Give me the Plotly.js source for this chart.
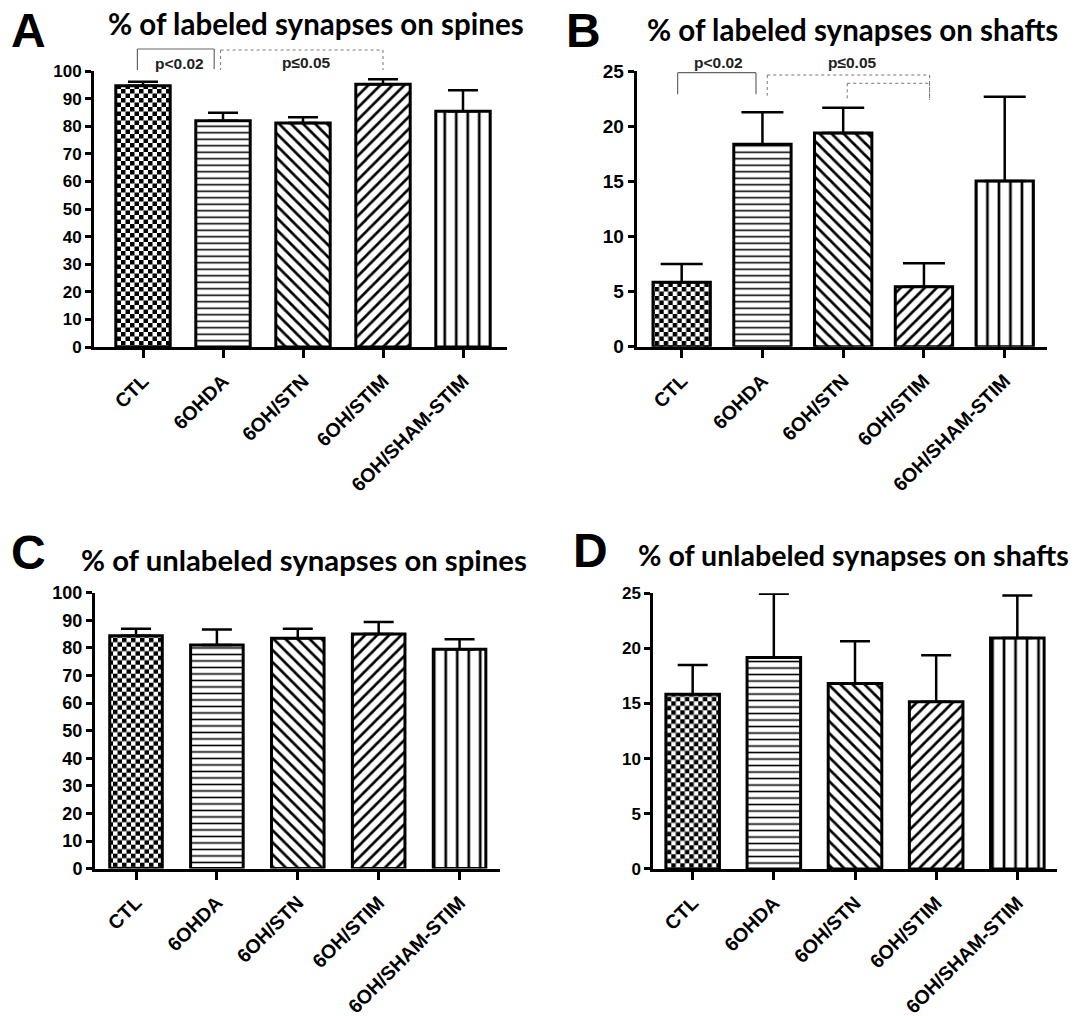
<!DOCTYPE html>
<html><head><meta charset="utf-8">
<script src="https://cdn.plot.ly/plotly-3.0.1.min.js"></script>
<style>body{margin:0;background:#fff}#chart{width:1076px;height:1016px}</style>
</head><body><div id="chart"></div>
<script>
const categories = ['CTL', '6OHDA', '6OH/STN', '6OH/STIM', '6OH/SHAM-STIM'];
const labeledSpinesMean = [94.7, 82.0, 81.2, 95.2, 85.4];
const labeledSpinesSem = [1.4, 2.9, 2.0, 1.8, 7.6];
const labeledShaftsMean = [5.84, 18.35, 19.37, 5.44, 15.02];
const labeledShaftsSem = [1.66, 2.9, 2.3, 2.12, 7.65];
const unlabeledSpinesMean = [84.4, 81.0, 83.5, 85.0, 79.5];
const unlabeledSpinesSem = [2.5, 5.7, 3.4, 4.4, 3.6];
const unlabeledShaftsMean = [15.84, 19.18, 16.81, 15.17, 20.94];
const unlabeledShaftsSem = [2.66, 5.77, 3.83, 4.22, 3.85];
const spineTicks = [0, 10, 20, 30, 40, 50, 60, 70, 80, 90, 100];
const shaftTicks = [0, 5, 10, 15, 20, 25];

const W = 1076, H = 1016;
const px = x => x / W;
const py = y => 1 - y / H;

const patternShapes = ['.', '-', '\\', '/', '|'];
const patternSizes = [9, 6.5, 8.5, 8.5, 11.5];
const patternSolidity = [0.5, 0.24, 0.32, 0.32, 0.23];

function barTrace(mean, sem, xa, ya, width) {
  return {
    type: 'bar', x: categories, y: mean, xaxis: xa, yaxis: ya, width: width,
    marker: {
      color: 'white', line: {color: 'black', width: 3},
      pattern: {shape: patternShapes, size: patternSizes, solidity: patternSolidity,
        fgcolor: 'black', bgcolor: 'white', fillmode: 'replace'}
    },
    error_y: {type: 'data', symmetric: false, array: sem, arrayminus: sem.map(() => 0),
      color: 'black', thickness: 2.5, width: xa === 'x2' ? 21 : 15},
    hoverinfo: 'none', showlegend: false
  };
}

const data = [
  barTrace(labeledSpinesMean, labeledSpinesSem, 'x', 'y', 0.68),
  barTrace(labeledShaftsMean, labeledShaftsSem, 'x2', 'y2', 0.71),
  barTrace(unlabeledSpinesMean, unlabeledSpinesSem, 'x3', 'y3', 0.65),
  barTrace(unlabeledShaftsMean, unlabeledShaftsSem, 'x4', 'y4', 0.66)
];

const tickFont = s => ({family: 'Liberation Sans, Arial, sans-serif', size: s, weight: 'bold', color: 'black'});

function xaxis(dom, range, anchor) {
  return {domain: dom, range: range, anchor: anchor, type: 'category',
    showline: true, linewidth: 3, linecolor: 'black', ticks: 'outside', ticklen: 8, tickwidth: 3,
    tickcolor: 'black', tickangle: -45, tickfont: tickFont(19.5), showgrid: false, zeroline: false,
    ticklabelstandoff: 4};
}
function yaxis(dom, range, ticks, anchor, fs) {
  return {domain: dom, range: range, anchor: anchor, tickvals: ticks,
    showline: true, linewidth: 3, linecolor: 'black', ticks: 'outside', ticklen: 6, tickwidth: 3,
    tickcolor: 'black', tickfont: tickFont(fs), showgrid: false, zeroline: false, ticklabelstandoff: 0};
}

const shapes = [];
function bracket(xref, xl, xr, yTop, yL, yR, dotted) {
  const line = dotted ? {color: '#777', width: 1, dash: 'dot'} : {color: '#666', width: 1.2};
  shapes.push({type: 'line', xref: xref, yref: 'paper', x0: xl, x1: xr, y0: py(yTop), y1: py(yTop), line: line});
  shapes.push({type: 'line', xref: xref, yref: 'paper', x0: xl, x1: xl, y0: py(yTop), y1: py(yL), line: line});
  shapes.push({type: 'line', xref: xref, yref: 'paper', x0: xr, x1: xr, y0: py(yTop), y1: py(yR), line: line});
}
// Panel A comparisons
bracket('x', -0.07, 0.89, 49, 70, 69, false);
bracket('x', 0.97, 3.0, 50, 70, 70, true);
// Panel B comparisons
bracket('x2', -0.05, 0.92, 72.7, 94.3, 94.3, false);
bracket('x2', 1.06, 3.07, 75, 95.7, 100, true);
bracket('x2', 2.05, 3.07, 83.3, 100, 100, true);

const pFont = {family: 'Liberation Sans, Arial, sans-serif', size: 15.5, weight: 'bold', color: '#222'};
const titleFont = s => ({family: 'Lato, Carlito, sans-serif', size: s, weight: 'bold', color: 'black'});
const letterFont = {family: 'Liberation Sans, Arial, sans-serif', size: 48, weight: 'bold', color: 'black'};

function note(xref, x, y, text, font) {
  return {xref: xref, yref: 'paper', x: x, y: py(y), text: text, showarrow: false, font: font,
    xanchor: 'center', yanchor: 'middle'};
}

const annotations = [
  note('x', 0.45, 63, 'p<0.02', pFont),
  note('x', 2.04, 62, 'p≤0.05', pFont),
  note('x2', 0.46, 62.7, 'p<0.02', pFont),
  note('x2', 2.12, 62.7, 'p≤0.05', pFont),
  note('paper', px(316), 24, '% of labeled synapses on spines', titleFont(29.5)),
  note('paper', px(852), 30, '% of labeled synapses on shafts', titleFont(29.5)),
  note('paper', px(304), 559, '% of unlabeled synapses on spines', titleFont(29.3)),
  note('paper', px(853), 555, '% of unlabeled synapses on shafts', titleFont(28.6)),
  note('paper', px(28), 31, 'A', letterFont),
  note('paper', px(583), 31, 'B', letterFont),
  note('paper', px(28), 552, 'C', letterFont),
  note('paper', px(590), 550, 'D', letterFont)
];

const layout = {
  width: W, height: H, margin: {l: 0, r: 0, t: 0, b: 0},
  paper_bgcolor: 'white', plot_bgcolor: 'white', showlegend: false,
  xaxis: xaxis([px(94), px(507)], [-0.6125, 4.55], 'y'),
  yaxis: yaxis([py(347), py(71)], [0, 100], spineTicks, 'x', 17),
  xaxis2: xaxis([px(636.7), px(1046.7)], [-0.557, 4.52], 'y2'),
  yaxis2: yaxis([py(346.7), py(71)], [0, 25], shaftTicks, 'x2', 19),
  xaxis3: xaxis([px(95), px(500)], [-0.507, 4.50], 'y3'),
  yaxis3: yaxis([py(868.6), py(592.7)], [0, 100], spineTicks, 'x3', 18),
  xaxis4: xaxis([px(653.3), px(1056.7)], [-0.485, 4.485], 'y4'),
  yaxis4: yaxis([py(868.9), py(593.3)], [0, 25], shaftTicks, 'x4', 17),
  shapes: shapes, annotations: annotations
};

Plotly.newPlot('chart', data, layout, {staticPlot: true}).then(gd => {
  const c = 4.5, ns = 'http://www.w3.org/2000/svg';
  gd.querySelectorAll('pattern').forEach(p => {
    if (p.querySelector('circle')) {
      while (p.firstChild) p.removeChild(p.firstChild);
      p.setAttribute('width', 2 * c); p.setAttribute('height', 2 * c);
      [[0, 0, 2 * c, 2 * c, 'white'], [0, 0, c, c, 'black'], [c, c, c, c, 'black']].forEach(r => {
        const e = document.createElementNS(ns, 'rect');
        e.setAttribute('x', r[0]); e.setAttribute('y', r[1]);
        e.setAttribute('width', r[2]); e.setAttribute('height', r[3]);
        e.setAttribute('fill', r[4]);
        p.appendChild(e);
      });
    }
  });
});
</script>
</body></html>
